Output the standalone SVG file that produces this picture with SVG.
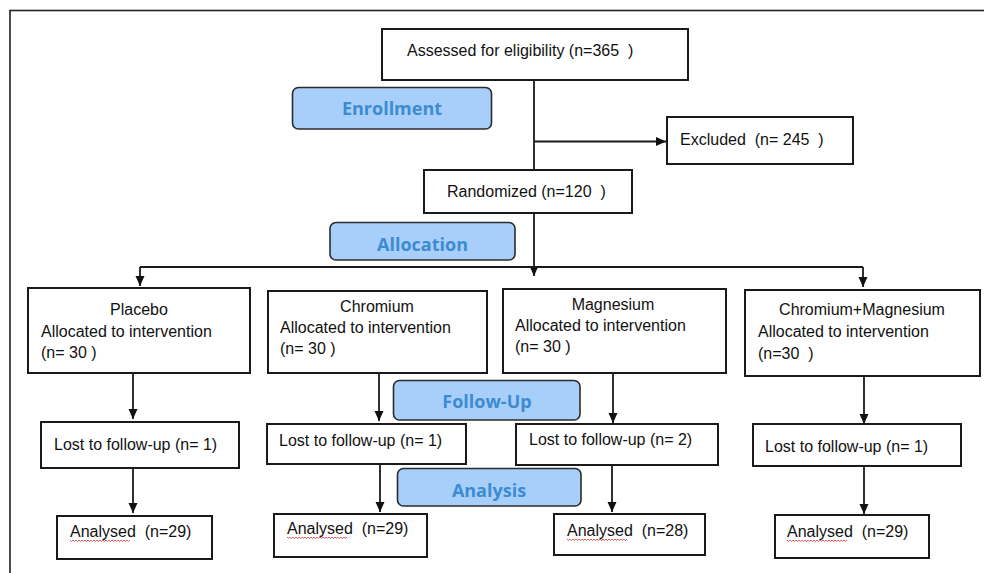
<svg xmlns="http://www.w3.org/2000/svg" xmlns:xlink="http://www.w3.org/1999/xlink" width="984" height="573" viewBox="0 0 984 573">
<style>
.box{fill:#fff;stroke:#1a1a1a;stroke-width:2}
.lab{fill:#a8cffa;stroke:#2b2b2b;stroke-width:1.6}
.t{font-family:"Liberation Sans",Arial,sans-serif;font-size:16px;fill:#111;white-space:pre}
.c{text-anchor:middle}
.lt{font-family:"Open Sans","Noto Sans",sans-serif;font-weight:700;font-size:18px;fill:#3d8bd0;text-anchor:middle}
.ln{fill:none;stroke:#1a1a1a;stroke-width:1.8}
.sq{fill:none;stroke:#d33;stroke-width:0.8}
</style>
<defs>
<marker id="ah" markerUnits="userSpaceOnUse" markerWidth="10" markerHeight="10" viewBox="0 0 10 10" refX="10" refY="5" orient="auto">
<path d="M0 0.5 L10 5 L0 9.5 Z" fill="#111"/>
</marker>
<path id="squig" class="sq" d="M0 0 l1.5 1.5 1.5 -1.5 1.5 1.5 1.5 -1.5 1.5 1.5 1.5 -1.5 1.5 1.5 1.5 -1.5 1.5 1.5 1.5 -1.5 1.5 1.5 1.5 -1.5 1.5 1.5 1.5 -1.5 1.5 1.5 1.5 -1.5 1.5 1.5 1.5 -1.5 1.5 1.5 1.5 -1.5 1.5 1.5 1.5 -1.5 1.5 1.5 1.5 -1.5 1.5 1.5 1.5 -1.5 1.5 1.5 1.5 -1.5 1.5 1.5 1.5 -1.5 1.5 1.5 1.5 -1.5 1.5 1.5 1.5 -1.5 1.5 1.5 1.5 -1.5 1.5 1.5 1.5 -1.5 1.5 1.5 1.5 -1.5"/>
</defs>
<rect width="984" height="573" fill="#fff"/>
<rect x="10" y="10.5" width="1000" height="600" fill="none" stroke="#222" stroke-width="1.6"/>

<g id="connectors">
<path class="ln" d="M534 80 V170"/>
<path class="ln" d="M534 141.5 H666" marker-end="url(#ah)"/>
<path class="ln" d="M534 213 V276" marker-end="url(#ah)"/>
<path class="ln" d="M140 267 H863"/>
<path class="ln" d="M140 267 V286" marker-end="url(#ah)"/>
<path class="ln" d="M863 267 V287" marker-end="url(#ah)"/>
<path class="ln" d="M133 373 V419" marker-end="url(#ah)"/>
<path class="ln" d="M379 373 V421" marker-end="url(#ah)"/>
<path class="ln" d="M613 373 V423" marker-end="url(#ah)"/>
<path class="ln" d="M864 376 V424" marker-end="url(#ah)"/>
<path class="ln" d="M133 468 V513" marker-end="url(#ah)"/>
<path class="ln" d="M380 464 V512" marker-end="url(#ah)"/>
<path class="ln" d="M612 465 V512" marker-end="url(#ah)"/>
<path class="ln" d="M864 466 V514" marker-end="url(#ah)"/>
</g>

<g id="assessed"><rect class="box" x="382" y="29" width="306" height="51"/><text class="t" x="407" y="56">Assessed for eligibility (n=365  )</text></g>
<g id="enrollment"><rect class="lab" x="292.5" y="87.5" width="199" height="41.5" rx="6"/><text class="lt" x="392" y="115">Enrollment</text></g>
<g id="excluded"><rect class="box" x="667" y="117" width="186" height="47"/><text class="t" x="680" y="145">Excluded  (n= 245  )</text></g>
<g id="randomized"><rect class="box" x="424" y="170" width="208" height="43"/><text class="t" x="447" y="197">Randomized (n=120  )</text></g>
<g id="allocation"><rect class="lab" x="330" y="222.5" width="185" height="37.5" rx="6"/><text class="lt" x="422.5" y="251">Allocation</text></g>

<g id="placebo"><rect class="box" x="28" y="288" width="222" height="85"/>
<text class="t c" x="139" y="315">Placebo</text>
<text class="t" x="41" y="337">Allocated to intervention</text>
<text class="t" x="41" y="358">(n= 30 )</text></g>
<g id="chromium"><rect class="box" x="268" y="291" width="219" height="82"/>
<text class="t c" x="377" y="312">Chromium</text>
<text class="t" x="280" y="333">Allocated to intervention</text>
<text class="t" x="280" y="354">(n= 30 )</text></g>
<g id="magnesium"><rect class="box" x="503" y="289" width="223" height="84"/>
<text class="t c" x="613" y="310">Magnesium</text>
<text class="t" x="515" y="331">Allocated to intervention</text>
<text class="t" x="515" y="352">(n= 30 )</text></g>
<g id="chromium-magnesium"><rect class="box" x="745" y="290" width="235" height="86"/>
<text class="t c" x="862" y="315">Chromium+Magnesium</text>
<text class="t" x="758" y="337">Allocated to intervention</text>
<text class="t" x="758" y="359">(n=30  )</text></g>

<g id="followup"><rect class="lab" x="393.5" y="380.5" width="186.5" height="39.5" rx="6"/><text class="lt" x="487" y="408">Follow-Up</text></g>

<g id="lost-placebo"><rect class="box" x="41" y="422" width="198" height="46"/><text class="t" x="54" y="450">Lost to follow-up (n= 1)</text></g>
<g id="lost-chromium"><rect class="box" x="267" y="424" width="199" height="40"/><text class="t" x="279" y="446">Lost to follow-up (n= 1)</text></g>
<g id="lost-magnesium"><rect class="box" x="516" y="424" width="202" height="41"/><text class="t" x="529" y="445">Lost to follow-up (n= 2)</text></g>
<g id="lost-chromium-magnesium"><rect class="box" x="753" y="424" width="208" height="42"/><text class="t" x="765" y="452">Lost to follow-up (n= 1)</text></g>

<g id="analysis"><rect class="lab" x="397.5" y="468.5" width="183.5" height="37.5" rx="6"/><text class="lt" x="489" y="497">Analysis</text></g>

<g id="analysed-placebo"><rect class="box" x="57" y="516" width="155" height="43"/><text class="t" x="70" y="537">Analysed  (n=29)</text><use xlink:href="#squig" x="70" y="540"/></g>
<g id="analysed-chromium"><rect class="box" x="274" y="514" width="153" height="43"/><text class="t" x="287" y="534">Analysed  (n=29)</text><use xlink:href="#squig" x="287" y="537"/></g>
<g id="analysed-magnesium"><rect class="box" x="554" y="514" width="151" height="41"/><text class="t" x="567" y="536">Analysed  (n=28)</text><use xlink:href="#squig" x="567" y="539"/></g>
<g id="analysed-chromium-magnesium"><rect class="box" x="775" y="515" width="154" height="43"/><text class="t" x="787" y="537">Analysed  (n=29)</text><use xlink:href="#squig" x="787" y="540"/></g>
</svg>
